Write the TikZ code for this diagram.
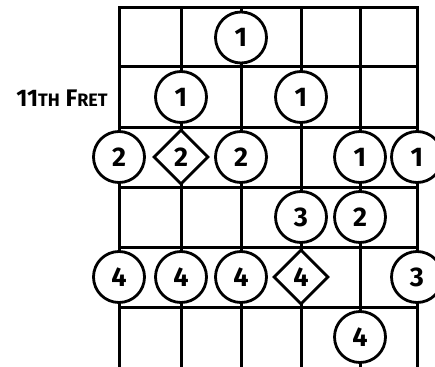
\documentclass[tikz,border=0pt]{standalone}
\usepackage{fontspec}
\setmainfont{Fira Sans}
\usetikzlibrary{shapes.geometric}
\tikzset{
  gridline/.style={line width=3pt, line cap=rect},
  finger/.style={circle, draw, line width=2.8pt, fill=white, minimum size=51pt, inner sep=0pt, font=\bfseries\fontsize{27}{27}\selectfont},
  rootnote/.style={diamond, draw, line width=2.8pt, fill=white, minimum width=55pt, minimum height=55pt, inner sep=0pt, font=\bfseries\fontsize{27}{27}\selectfont},
  fretlabel/.style={font=\bfseries\fontsize{24}{24}\selectfont, inner sep=0pt}
}
\begin{document}
\begin{tikzpicture}[x=1pt,y=-1pt]
\useasboundingbox (0,0) rectangle (435,366);
% strings
\foreach \sx in {119,181,241,301,360,417} {
  \draw[line width=3pt] (\sx,8) -- (\sx,370);
}
% frets
\foreach \fy in {8,67,127,187,247,307} {
  \draw[gridline] (119,\fy) -- (417,\fy);
}
% label
\node[fretlabel] (lbl) at (62,98) {11{\fontsize{18}{18}\selectfont TH} F{\fontsize{18}{18}\selectfont RET}};
% row 1
\node[finger] (a3) at (241,37.5) {1};
% row 2
\node[finger] (b2) at (181,97) {1};
\node[finger] (b4) at (301,97) {1};
% row 3
\node[finger] (c1) at (119,157) {2};
\node[rootnote] (c2) at (181,157) {2};
\node[finger] (c3) at (241,157) {2};
\node[finger] (c5) at (360,157) {1};
\node[finger] (c6) at (417,157) {1};
% row 4
\node[finger] (d4) at (301,217) {3};
\node[finger] (d5) at (360,217) {2};
% row 5
\node[finger] (e1) at (119,277) {4};
\node[finger] (e2) at (181,277) {4};
\node[finger] (e3) at (241,277) {4};
\node[rootnote] (e4) at (301,277) {4};
\node[finger] (e6) at (417,277) {3};
% row 6
\node[finger] (f5) at (360,337) {4};
\end{tikzpicture}
\end{document}
